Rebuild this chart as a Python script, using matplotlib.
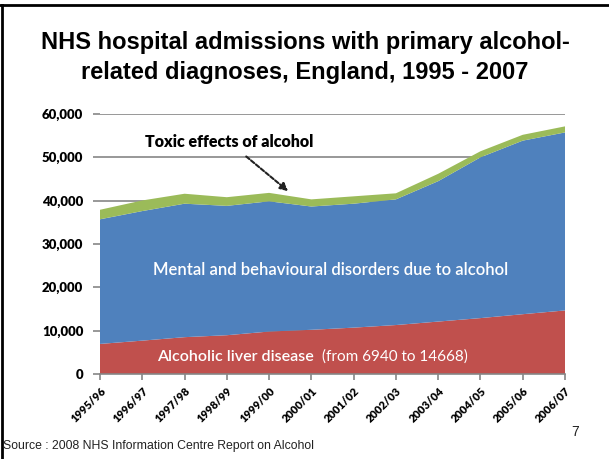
import matplotlib.pyplot as plt
from matplotlib.lines import Line2D

# admissions by financial year
years = ["1995/96", "1996/97", "1997/98", "1998/99", "1999/00", "2000/01",
         "2001/02", "2002/03", "2003/04", "2004/05", "2005/06", "2006/07"]
liver = [6940, 7700, 8500, 8950, 9800, 10200, 10700, 11300, 12100, 12900, 13800, 14668]
mental = [28760, 29900, 30800, 29850, 30050, 28450, 28600, 29000, 32400, 37100, 40050, 41080]
toxic = [2200, 2450, 2300, 2000, 1950, 1650, 1700, 1400, 1700, 1400, 1350, 1400]

y_ticks = [0, 10000, 20000, 30000, 40000, 50000, 60000]

RED = "#C0504D"
BLUE = "#4F81BD"
GREEN = "#9BBB59"
GRID = "#868686"
BODY = ["Lato", "DejaVu Sans"]
ARIAL = ["Liberation Sans", "DejaVu Sans"]

fig = plt.figure(figsize=(6.09, 4.59), dpi=100)
ax = fig.add_axes([100 / 609, 85 / 459, 465 / 609, 260 / 459])

x = list(range(len(years)))
ax.stackplot(x, liver, mental, toxic, colors=[RED, BLUE, GREEN], linewidth=0)

ax.set_xlim(0, len(years) - 1)
ax.set_ylim(0, 60000)
ax.set_yticks(y_ticks)
ax.set_yticklabels([f"{v:,}" for v in y_ticks], fontsize=9.5, fontweight="heavy",
                   family=BODY)
ax.set_xticks(x)
ax.set_xticklabels(years, rotation=45, ha="right", rotation_mode="anchor",
                   fontsize=8, fontweight="heavy", family=BODY)

ax.yaxis.grid(True, color=GRID, linewidth=1.2)
ax.set_axisbelow(True)
for side in ["top", "right", "left"]:
    ax.spines[side].set_visible(False)
ax.spines["bottom"].set_color(GRID)
ax.spines["bottom"].set_linewidth(1.2)
ax.tick_params(axis="y", length=5, color=GRID, width=1.2, pad=7)
ax.tick_params(axis="x", length=4, color=GRID, width=1.2, pad=4)

# series labels inside the areas
ax.text(5.45, 24000, "Mental and behavioural disorders due to alcohol",
        color="white", fontsize=12, fontweight="semibold", ha="center", va="center",
        family=BODY)
ax.text(1.35, 4000, "Alcoholic liver disease", color="white", fontsize=11.5,
        fontweight="semibold", ha="left", va="center", family=BODY)
ax.text(5.25, 4000, "(from 6940 to 14668)", color="white", fontsize=11,
        ha="left", va="center", family=BODY)

ax.annotate("Toxic effects of alcohol", xy=(4.45, 42200), xytext=(3.05, 53500),
            fontsize=11.5, fontweight="heavy", ha="center", va="center",
            family=BODY,
            arrowprops=dict(arrowstyle="-|>", color="#222222", lw=1.5,
                            linestyle=(0, (2, 1)), shrinkA=4, shrinkB=0))

fig.text(305 / 609, 1 - 42 / 459, "NHS hospital admissions with primary alcohol-",
         ha="center", va="center", fontsize=17, fontweight="bold", family=ARIAL)
fig.text(305 / 609, 1 - 73 / 459, "related diagnoses, England, 1995 - 2007",
         ha="center", va="center", fontsize=17, fontweight="bold", family=ARIAL)

fig.text(3 / 609, 1 - 446 / 459, "Source : 2008 NHS Information Centre Report on Alcohol",
         ha="left", va="center", fontsize=8.8, color="#222222", family=ARIAL)
fig.text(575 / 609, 1 - 432 / 459, "7", ha="center", va="center", fontsize=10,
         color="#222222", family=ARIAL)

# slide frame, top and left edges
fig.add_artist(Line2D([0, 1], [1 - 5 / 459, 1 - 5 / 459], color="black", lw=2,
                      transform=fig.transFigure))
fig.add_artist(Line2D([2 / 609, 2 / 609], [0, 1 - 5 / 459], color="black", lw=2,
                      transform=fig.transFigure))

fig.savefig("out.png", dpi=100)
